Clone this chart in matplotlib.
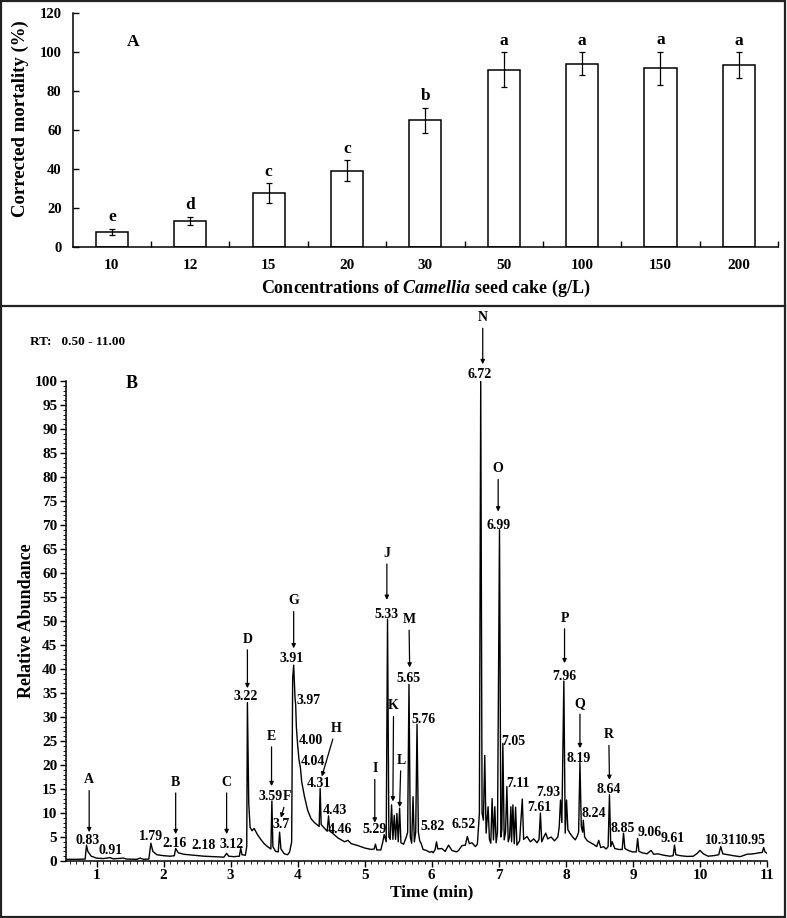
import matplotlib
matplotlib.use('Agg')
import matplotlib.pyplot as plt
from matplotlib.ticker import MultipleLocator, FixedLocator
import numpy as np

plt.rcParams['font.family'] = 'Liberation Serif'
plt.rcParams['font.weight'] = 'bold'
plt.rcParams['axes.labelweight'] = 'bold'
plt.rcParams['mathtext.fontset'] = 'custom'
plt.rcParams['mathtext.rm'] = 'Liberation Serif:bold'
plt.rcParams['mathtext.it'] = 'Liberation Serif:italic:bold'

# panel A data
conc = ['10', '12', '15', '20', '30', '50', '100', '150', '200']
mortality = [7.5, 13.3, 27.5, 39.1, 65.0, 90.9, 94.0, 91.6, 93.3]
mort_err = [1.7, 2.0, 5.0, 5.2, 6.4, 9.0, 6.0, 8.5, 6.7]
sig = ['e', 'd', 'c', 'c', 'b', 'a', 'a', 'a', 'a']

# panel B chromatogram (time in min, relative abundance)
rt = [0.54, 0.70, 0.83, 0.85, 0.87, 0.92, 1.00, 1.10, 1.20, 1.25, 1.40, 1.45,
      1.60, 1.65, 1.70, 1.78, 1.81, 1.84, 1.90, 2.00, 2.10, 2.16, 2.18, 2.22,
      2.30, 2.45, 2.60, 2.75, 2.90, 2.94, 2.97, 3.05, 3.13, 3.15, 3.17, 3.22,
      3.24, 3.25, 3.27, 3.29, 3.32, 3.35, 3.40, 3.45, 3.50, 3.55, 3.60, 3.615,
      3.63, 3.67, 3.71, 3.73, 3.75, 3.80, 3.85, 3.88, 3.91, 3.925, 3.94, 3.96,
      3.97, 3.98, 4.00, 4.02, 4.04, 4.06, 4.10, 4.15, 4.20, 4.25, 4.32, 4.335,
      4.35, 4.40, 4.44, 4.46, 4.48, 4.52, 4.60, 4.70, 4.75, 4.80, 4.90, 5.00,
      5.10, 5.14, 5.16, 5.18, 5.24, 5.27, 5.29, 5.32, 5.34, 5.36, 5.38, 5.40,
      5.42, 5.44, 5.46, 5.48, 5.50, 5.52, 5.54, 5.58, 5.62, 5.64, 5.66, 5.68,
      5.70, 5.72, 5.74, 5.76, 5.78, 5.80, 5.82, 5.84, 5.87, 5.92, 5.97, 6.00,
      6.02, 6.05, 6.07, 6.09, 6.15, 6.20, 6.25, 6.30, 6.37, 6.40, 6.45, 6.50,
      6.53, 6.56, 6.60, 6.65, 6.68, 6.71, 6.73, 6.75, 6.77, 6.79, 6.81, 6.84,
      6.86, 6.88, 6.90, 6.92, 6.94, 6.96, 6.98, 7.01, 7.03, 7.045, 7.06, 7.08,
      7.10, 7.12, 7.14, 7.16, 7.18, 7.19, 7.21, 7.23, 7.25, 7.27, 7.31, 7.35,
      7.37, 7.42, 7.47, 7.52, 7.57, 7.60, 7.62, 7.64, 7.67, 7.70, 7.73, 7.78,
      7.83, 7.88, 7.90, 7.92, 7.94, 7.97, 7.99, 8.01, 8.03, 8.06, 8.10, 8.14,
      8.17, 8.19, 8.21, 8.23, 8.25, 8.26, 8.28, 8.32, 8.37, 8.42, 8.46, 8.49,
      8.52, 8.56, 8.60, 8.63, 8.65, 8.67, 8.69, 8.73, 8.79, 8.84, 8.86, 8.88,
      8.93, 8.99, 9.05, 9.07, 9.09, 9.14, 9.21, 9.27, 9.31, 9.37, 9.46, 9.55,
      9.60, 9.62, 9.64, 9.71, 9.81, 9.90, 9.96, 10.00, 10.05, 10.12, 10.20,
      10.28, 10.31, 10.34, 10.42, 10.50, 10.60, 10.70, 10.80, 10.88, 10.93,
      10.95, 10.97, 11.00]
abundance = [0.35, 0.35, 0.4, 3.3, 2.0, 1.0, 0.6, 0.5, 0.7, 0.45, 0.6, 0.4,
             0.35, 0.6, 0.35, 0.4, 3.7, 2.0, 1.3, 1.1, 1.0, 1.1, 2.6, 1.7,
             1.4, 1.2, 1.0, 0.9, 0.8, 1.6, 1.0, 0.9, 1.0, 2.6, 1.3, 1.2,
             3.0, 33.0, 12.0, 7.0, 6.3, 6.8, 5.5, 4.5, 3.6, 3.0, 2.5, 12.5,
             3.0, 2.0, 1.9, 6.0, 2.5, 1.5, 1.3, 1.9, 4.0, 38.0, 40.8, 34.0,
             32.5, 28.0, 24.0, 21.0, 19.5, 16.5, 13.5, 10.5, 8.8, 8.0, 7.2, 15.1,
             7.6, 6.8, 6.2, 9.4, 6.2, 5.8, 4.8, 4.0, 4.3, 3.6, 3.2, 2.7,
             2.4, 2.5, 3.5, 2.3, 2.3, 4.0, 5.5, 4.0, 50.4, 5.0, 4.5, 11.7,
             4.5, 9.5, 4.5, 9.9, 4.0, 11.0, 3.8, 3.5, 5.0, 6.0, 36.8, 5.0,
             3.7, 13.4, 4.0, 6.0, 28.5, 6.0, 4.2, 3.7, 2.4, 2.2, 1.8, 2.0,
             1.7, 2.4, 4.0, 2.5, 2.6, 2.0, 3.3, 2.2, 1.9, 2.2, 3.2, 3.3,
             5.1, 3.6, 3.8, 3.0, 3.5, 9.9, 100.0, 10.0, 8.5, 22.0, 5.8, 11.3,
             4.5, 3.7, 13.0, 4.4, 11.3, 3.8, 6.0, 69.0, 5.0, 6.5, 24.5, 4.4,
             6.0, 15.5, 4.0, 5.0, 11.3, 4.0, 11.7, 3.6, 11.2, 3.3, 4.2, 12.9,
             4.5, 5.1, 4.0, 4.6, 3.8, 4.5, 10.0, 4.0, 5.0, 5.8, 4.6, 5.0,
             4.2, 5.0, 7.0, 12.7, 8.0, 37.5, 5.8, 12.7, 6.5, 5.8, 5.0, 4.4,
             5.2, 6.0, 20.5, 7.2, 6.0, 8.5, 5.0, 4.2, 3.8, 3.4, 3.0, 4.3,
             2.8, 3.0, 2.5, 3.0, 13.8, 3.0, 4.0, 2.6, 2.4, 2.4, 5.8, 2.6,
             2.2, 1.9, 1.9, 4.7, 2.0, 1.7, 1.5, 2.2, 1.4, 1.5, 1.2, 1.0,
             1.1, 3.3, 1.3, 1.1, 0.95, 1.0, 1.6, 2.2, 1.5, 1.0, 1.1,
             1.3, 3.0, 1.5, 1.3, 1.1, 0.9, 1.4, 1.5, 1.7, 1.8,
             2.8, 1.9, 1.6]

# retention time labels: text, time, abundance
peak_labels = [('0.83', 0.86, 4.2), ('0.91', 1.21, 2.15), ('1.79', 1.81, 5.1),
               ('2.16', 2.17, 3.6), ('2.18', 2.60, 3.3), ('3.12', 3.01, 3.5),
               ('3.22', 3.23, 34.2), ('3.59', 3.60, 13.4), ('3.7', 3.76, 7.6),
               ('3.91', 3.91, 42.2), ('3.97', 4.16, 33.4), ('4.00', 4.19, 25.2),
               ('4.04', 4.22, 20.7), ('4.31', 4.31, 16.2), ('4.43', 4.56, 10.6),
               ('4.46', 4.63, 6.6), ('5.29', 5.15, 6.6), ('5.33', 5.33, 51.4),
               ('5.65', 5.65, 38.0), ('5.76', 5.88, 29.4), ('5.82', 6.01, 7.2),
               ('6.52', 6.48, 7.6), ('6.72', 6.72, 101.4), ('6.99', 7.00, 69.8),
               ('7.05', 7.21, 24.9), ('7.11', 7.28, 16.2), ('7.61', 7.61, 11.1),
               ('7.93', 7.74, 14.3), ('7.96', 7.97, 38.4), ('8.19', 8.19, 21.3),
               ('8.24', 8.42, 9.9), ('8.64', 8.64, 14.8), ('8.85', 8.85, 6.8),
               ('9.06', 9.25, 6.0), ('9.61', 9.59, 4.6), ('10.31', 10.31, 4.2),
               ('10.95', 10.75, 4.2)]

# compound letters: letter, text position, arrow tip
compounds = [('A', (0.89, 16.9), (0.89, 6.0)), ('B', (2.18, 16.4), (2.18, 5.6)),
             ('C', (2.94, 16.4), (2.94, 5.6)), ('D', (3.25, 46.2), (3.25, 36.0)),
             ('E', (3.61, 26.0), (3.61, 15.6)), ('F', (3.84, 13.4), (3.75, 9.0)),
             ('G', (3.94, 54.2), (3.94, 44.3)), ('H', (4.57, 27.6), (4.36, 17.6)),
             ('I', (5.15, 19.2), (5.15, 8.0)), ('J', (5.33, 64.1), (5.33, 54.4)),
             ('K', (5.43, 32.3), (5.42, 12.4)), ('L', (5.54, 21.0), (5.52, 11.2)),
             ('M', (5.66, 50.3), (5.67, 40.3)), ('N', (6.76, 113.2), (6.76, 103.5)),
             ('O', (6.99, 81.7), (6.99, 72.8)), ('P', (7.98, 50.6), (7.98, 41.2)),
             ('Q', (8.21, 32.8), (8.21, 23.5)), ('R', (8.64, 26.3), (8.65, 16.9))]

fig = plt.figure(figsize=(7.87, 9.18), dpi=100)

# outer frame and separator
fig.add_artist(plt.Rectangle((0.0015, 0.0015), 0.996, 0.997, transform=fig.transFigure,
                             fill=False, lw=1.6, edgecolor='#222222'))
fig.add_artist(plt.Line2D([0.0015, 0.9975], [0.6667, 0.6667], transform=fig.transFigure,
                          lw=1.6, color='#222222'))

# ---- panel A ----
axA = fig.add_axes([0.0924, 0.7313, 0.8962, 0.2545])
x = np.arange(len(conc))
axA.bar(x, mortality, width=0.41, color='white', edgecolor='black', lw=1.1,
        yerr=mort_err, error_kw=dict(ecolor='black', elinewidth=0.9, capsize=2, capthick=0.9))
for i in range(len(conc)):
    axA.annotate(sig[i], (x[i], mortality[i] + mort_err[i]), xytext=(0, 2.5),
                 textcoords='offset points', ha='center', va='bottom', fontsize=12.5)
axA.set_xlim(-0.5, len(conc) - 0.5)
axA.set_ylim(0, 120)
axA.set_yticks(range(0, 121, 20))
axA.set_xticks(x)
axA.set_xticklabels(conc)
axA.xaxis.set_minor_locator(FixedLocator(x + 0.5))
axA.tick_params(axis='x', which='major', length=0, pad=9, labelsize=11)
axA.tick_params(axis='x', which='minor', direction='in', length=4, width=1)
axA.tick_params(axis='y', direction='in', length=4, width=1, pad=8, labelsize=10.5)
for s in ['top', 'right']:
    axA.spines[s].set_visible(False)
for s in ['left', 'bottom']:
    axA.spines[s].set_linewidth(1.1)
axA.set_ylabel('Corrected mortality (%)', fontsize=13.5)
axA.yaxis.set_label_coords(-0.062, 0.55)
axA.set_xlabel('Concentrations of $\\mathit{Camellia}$ seed cake (g/L)', fontsize=13)
axA.xaxis.set_label_coords(0.5, -0.135)
axA.text(0.27, 105, 'A', ha='center', va='center', fontsize=12.5)

# ---- panel B ----
axB = fig.add_axes([0.0835, 0.0621, 0.8911, 0.5229])
axB.plot(rt, abundance, color='black', lw=1.0)
axB.set_xlim(0.54, 11)
axB.set_ylim(0, 100)
axB.xaxis.set_major_locator(MultipleLocator(1))
axB.xaxis.set_minor_locator(MultipleLocator(0.1))
axB.yaxis.set_major_locator(MultipleLocator(5))
axB.yaxis.set_minor_locator(MultipleLocator(1))
axB.tick_params(which='major', direction='out', length=4, width=1, labelsize=11, pad=2)
axB.tick_params(which='minor', direction='out', length=2.2, width=0.6)
for s in ['top', 'right']:
    axB.spines[s].set_visible(False)
for s in ['left', 'bottom']:
    axB.spines[s].set_linewidth(1.1)
axB.set_ylabel('Relative Abundance', fontsize=13)
axB.yaxis.set_label_coords(-0.044, 0.5)
axB.set_xlabel('Time (min)', fontsize=12.5)
axB.xaxis.set_label_coords(0.522, -0.048)
axB.text(1.53, 99.5, 'B', ha='center', va='center', fontsize=13)
fig.text(0.038, 0.6275, 'RT:   0.50 - 11.00', ha='left', va='center', fontsize=9.5)

for s, t, a in peak_labels:
    axB.text(t, a, s, ha='center', va='center', fontsize=10)
for s, (tt, ta), (pt, pa) in compounds:
    axB.annotate(s, xy=(pt, pa), xytext=(tt, ta), ha='center', va='center', fontsize=10,
                 annotation_clip=False,
                 arrowprops=dict(arrowstyle='-|>', color='black', lw=0.9,
                                 mutation_scale=6, shrinkA=1, shrinkB=0))

fig.savefig('out.png', dpi=100, facecolor='white')
